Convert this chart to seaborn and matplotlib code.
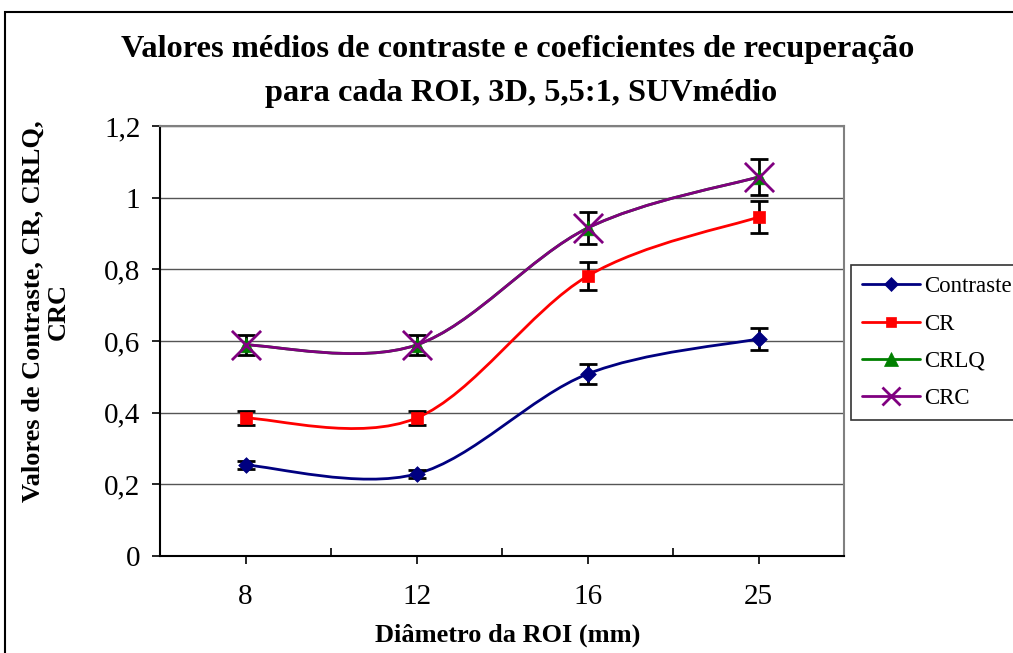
import numpy as np
import pandas as pd
import seaborn as sns
import matplotlib
matplotlib.use("Agg")
import matplotlib.pyplot as plt
from matplotlib.path import Path
from matplotlib.patches import PathPatch, Rectangle
from matplotlib.lines import Line2D

# ---- data ----
categories = ["8", "12", "16", "25"]
contraste = [0.254, 0.229, 0.508, 0.606]
contraste_err = [0.012, 0.012, 0.027, 0.030]
cr = [0.385, 0.385, 0.781, 0.946]
cr_err = [0.020, 0.020, 0.040, 0.045]
crlq = [0.589, 0.589, 0.915, 1.058]
crlq_err = [0.028, 0.028, 0.045, 0.050]
crc = [0.589, 0.589, 0.915, 1.058]
crc_err = [0.0, 0.0, 0.0, 0.0]
series_names = ["Contraste", "CR", "CRLQ", "CRC"]
yticks = [0, 0.2, 0.4, 0.6, 0.8, 1.0, 1.2]
ytick_labels = ["0", "0,2", "0,4", "0,6", "0,8", "1", "1,2"]

sns.set_theme(style="white")
plt.rcParams["font.family"] = ["Liberation Serif", "DejaVu Serif"]
plt.rcParams["text.color"] = "black"
plt.rcParams["axes.labelcolor"] = "black"
plt.rcParams["xtick.color"] = "black"
plt.rcParams["ytick.color"] = "black"

colors = {"Contraste": "#000080", "CR": "#FF0000", "CRLQ": "#008000", "CRC": "#800080"}
markers = {"Contraste": "D", "CR": "s", "CRLQ": "^", "CRC": "x"}
msizes = {"Contraste": 8, "CR": 8.5, "CRLQ": 10.5, "CRC": 21}

vals = {"Contraste": contraste, "CR": cr, "CRLQ": crlq, "CRC": crc}
errs = {"Contraste": contraste_err, "CR": cr_err, "CRLQ": crlq_err, "CRC": crc_err}

rows = []
for s in series_names:
    for c, v, e in zip(categories, vals[s], errs[s]):
        rows.append({"series": s, "diam": c, "value": v, "err": e})
df = pd.DataFrame(rows)

fig = plt.figure(figsize=(10.13, 6.53), dpi=100)
ax = fig.add_axes([160 / 1013, 1 - 556 / 653, 684 / 1013, 430 / 653])

xpos = np.arange(len(categories))


def smooth_path(xs, ys):
    pts = np.column_stack([xs, ys]).astype(float)
    n = len(pts)
    verts = [pts[0]]
    codes = [Path.MOVETO]
    for i in range(n - 1):
        p0 = pts[i - 1] if i > 0 else pts[i]
        p1 = pts[i]
        p2 = pts[i + 1]
        p3 = pts[i + 2] if i + 2 < n else pts[i + 1]
        c1 = p1 + (p2 - p0) / 6.0
        c2 = p2 - (p3 - p1) / 6.0
        verts += [c1, c2, p2]
        codes += [Path.CURVE4] * 3
    return Path(verts, codes)


# gridlines
for yv in yticks[1:]:
    ax.axhline(yv, color="#555555", lw=1.0, zorder=0)

# smooth lines
for s in series_names:
    sub = df[df.series == s]
    p = smooth_path(xpos, sub["value"].values)
    ax.add_patch(PathPatch(p, fill=False, edgecolor=colors[s], lw=2.0, zorder=2))

# error bars
for s in ["Contraste", "CR", "CRLQ"]:
    sub = df[df.series == s]
    ax.errorbar(xpos, sub["value"].values, yerr=sub["err"].values, fmt="none",
                ecolor="black", elinewidth=2, capsize=6.5, capthick=2, zorder=3)

# markers via seaborn
for s in series_names:
    sub = df[df.series == s]
    if markers[s] == "x":
        sns.scatterplot(data=sub, x="diam", y="value", marker="x", s=msizes[s] ** 2,
                        color=colors[s], linewidth=2, ax=ax, zorder=5, legend=False)
    else:
        sns.scatterplot(data=sub, x="diam", y="value", marker=markers[s], s=msizes[s] ** 2,
                        color=colors[s], edgecolor=colors[s], linewidth=0.5, ax=ax,
                        zorder=4, legend=False)

ax.set_xlim(-0.5, len(categories) - 0.5)
ax.set_ylim(0, 1.2)
ax.set_xticks(xpos)
ax.set_xticklabels(categories)
ax.set_xticks(np.arange(0.5, len(categories) - 0.5, 1), minor=True)
ax.set_yticks(yticks)
ax.set_yticklabels(ytick_labels)
ax.tick_params(axis="x", which="major", direction="out", length=6, width=1.2,
               color="black", labelcolor="black", labelsize=21, pad=14, bottom=True)
ax.tick_params(axis="x", which="minor", direction="in", length=6, width=1.2,
               color="black", bottom=True)
ax.tick_params(axis="y", which="major", direction="out", length=6, width=1.2,
               color="black", labelcolor="black", labelsize=21, pad=8, left=True)
ax.set_xlabel("")
ax.set_ylabel("")

for side in ["left", "bottom"]:
    ax.spines[side].set_color("black")
    ax.spines[side].set_linewidth(1.5)
for side in ["top", "right"]:
    ax.spines[side].set_visible(True)
    ax.spines[side].set_color("#808080")
    ax.spines[side].set_linewidth(1.5)

# titles and labels
fig.text(518 / 1013, 1 - 50 / 653, "Valores médios de contraste e coeficientes de recuperação",
         ha="center", va="center", fontsize=23.3, fontweight="bold", color="black")
fig.text(521 / 1013, 1 - 93 / 653, "para cada ROI, 3D, 5,5:1, SUVmédio",
         ha="center", va="center", fontsize=23.3, fontweight="bold", color="black")
fig.text(46 / 1013, 1 - 311 / 653, "Valores de Contraste, CR, CRLQ,\nCRC", rotation=90,
         ha="center", va="center", fontsize=19, fontweight="bold", linespacing=1.1,
         multialignment="center", color="black")
fig.text(508 / 1013, 1 - 635 / 653, "Diâmetro da ROI (mm)", ha="center", va="center",
         fontsize=19, fontweight="bold", color="black")

# legend
handles = []
for s in series_names:
    ms = msizes[s] * (0.9 if s != "CRC" else 0.6)
    handles.append(Line2D([0], [0], color=colors[s], lw=2, marker=markers[s], markersize=ms,
                          markerfacecolor=colors[s], markeredgecolor=colors[s],
                          markeredgewidth=2 if s == "CRC" else 0.5))
leg = fig.legend(handles, series_names, loc="upper left",
                 bbox_to_anchor=(851 / 1013, 1 - 265 / 653), borderaxespad=0,
                 frameon=True, fancybox=False,
                 edgecolor="black", fontsize=16.5, handlelength=2.5, borderpad=0.5,
                 labelspacing=0.7, handletextpad=0.2)
leg.get_frame().set_linewidth(1.2)
for t in leg.get_texts():
    t.set_color("black")

# outer chart border
fig.add_artist(Rectangle((5 / 1013, -0.2), 1.2, 1.2 - 12 / 653, transform=fig.transFigure,
                         fill=False, edgecolor="black", lw=1.5))

fig.savefig("out.png", dpi=100)
